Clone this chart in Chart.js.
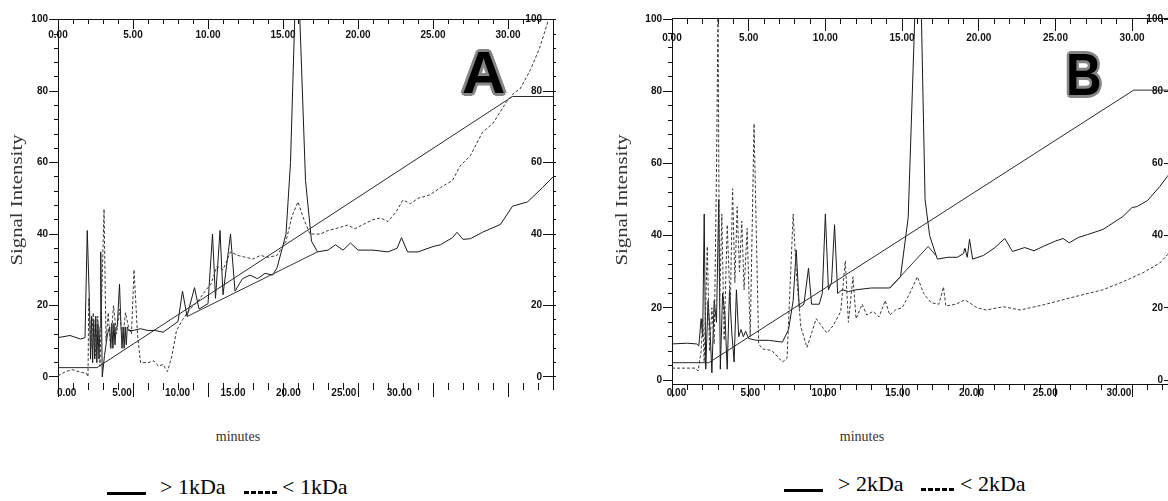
<!DOCTYPE html>
<html>
<head>
<meta charset="utf-8">
<title>Signal intensity vs minutes</title>
<script src="https://cdn.jsdelivr.net/npm/chart.js@4.4.1/dist/chart.umd.min.js"></script>
<style>
  body { margin: 0; width: 1168px; height: 501px; background: #fff; position: relative; overflow: hidden; }
  canvas { position: absolute; top: 0; }
  .txt { position: absolute; font-family: "Liberation Serif", "Times New Roman", serif; color: #333; white-space: nowrap; text-align: center; }
  .ytitle { width: 160px; font-size: 16px; line-height: 18px; transform: rotate(-90deg) scaleX(1.3); }
  .xtitle { width: 100px; font-size: 14px; line-height: 16px; }
  .tag { position: absolute; font-family: "Liberation Sans", Arial, sans-serif; font-weight: bold; font-size: 60px; line-height: 60px; color: #000;
         text-shadow: -2px -2px 0 #858585, 2px -2px 0 #858585, -2px 2px 0 #858585, 2px 2px 0 #858585, 0 -3px 0 #858585, 0 3px 0 #858585, -3px 0 0 #858585, 3px 0 0 #858585; }
  .leg { position: absolute; font-family: "Liberation Serif", "Times New Roman", serif; font-size: 22px; line-height: 22px; color: #000; white-space: nowrap; }
  .solid { position: absolute; height: 3px; background: #000; }
  .dash { position: absolute; height: 3px; background: repeating-linear-gradient(to right, #000 0 5px, transparent 5px 7px); }
</style>
</head>
<body>
<canvas id="chartA" width="600" height="420" style="left:0"></canvas>
<canvas id="chartB" width="580" height="420" style="left:600px"></canvas>

<div class="txt ytitle" style="left:-63px;top:191px">Signal Intensity</div>
<div class="txt ytitle" style="left:542px;top:191px">Signal Intensity</div>
<div class="txt xtitle" style="left:188px;top:429px">minutes</div>
<div class="txt xtitle" style="left:812px;top:429px">minutes</div>

<div class="tag" style="left:462px;top:43px">A</div>
<div class="tag" style="left:1066px;top:45px;transform:scaleX(0.82);transform-origin:left top">B</div>

<div class="solid" style="left:107px;top:492px;width:39px"></div>
<div class="leg" style="left:160px;top:476px">&gt; 1kDa</div>
<div class="dash" style="left:244px;top:491px;width:33px"></div>
<div class="leg" style="left:282px;top:476px">&lt; 1kDa</div>

<div class="solid" style="left:784px;top:489px;width:39px"></div>
<div class="leg" style="left:838px;top:473px">&gt; 2kDa</div>
<div class="dash" style="left:921px;top:488px;width:33px"></div>
<div class="leg" style="left:960px;top:473px">&lt; 2kDa</div>

<script>
// tick values shared by both panels
var timeTicks = [0, 5, 10, 15, 20, 25, 30];
var signalTicks = [0, 20, 40, 60, 80, 100];

// Panel A : > 1kDa (solid) and < 1kDa (dashed), minutes vs signal
var aSolidT = [0, 0.8, 1.5, 1.8, 1.95, 2.1, 2.17, 2.24, 2.31, 2.38, 2.45, 2.52, 2.59, 2.66, 2.73, 2.8, 2.85, 2.95, 3.1, 3.3,
  3.45, 3.52, 3.59, 3.66, 3.73, 3.8, 3.87, 3.95, 4.1, 4.2, 4.27, 4.34, 4.41, 4.48, 4.55, 4.62, 4.7, 4.8,
  5.0, 5.5, 6.0, 6.5, 7.0, 7.5, 8.0, 8.3, 8.6, 9.1, 9.4, 10.0, 10.3, 10.5, 10.8, 11.0, 11.5, 11.8, 12.3, 12.8, 13.3, 13.8,
  14.3, 14.6, 15.2, 15.5, 15.8, 16.1, 16.5, 16.9, 17.3, 18, 18.5, 19, 19.5, 20, 21, 22, 22.6, 22.9, 23.3, 24, 25, 25.5,
  26.3, 26.6, 27, 27.5, 28.3, 29.5, 30.3, 31.3, 32.3, 33];
var aSolidV = [11, 11.6, 10.6, 11, 41, 20, 5, 17, 4, 16, 5, 17, 4, 15, 5, 14, 35, 0, 6, 12,
  14, 8, 15, 8, 15, 9, 14, 14, 26, 14, 8, 14, 8, 14, 9, 14, 13, 13,
  13, 13.5, 13, 13, 12.5, 14, 15.5, 24, 17, 25, 19, 20.5, 40, 22, 41, 23, 40, 24, 27.5, 28.5, 27.5, 29,
  28.5, 30.5, 40, 60, 103, 103, 55, 38, 35, 35.5, 37, 35.5, 37.5, 35.5, 35.5, 35, 36, 39, 35, 35, 36.5, 37,
  39, 40.5, 38.5, 38.7, 40.5, 42.7, 47.8, 49, 53, 56];
var aDashT = [0, 0.5, 1.0, 1.5, 1.9, 2.0, 2.05, 2.2, 2.35, 2.5, 2.65, 2.8, 2.9, 3.07, 3.2, 3.35, 3.5, 3.7, 3.9, 4.1, 4.3,
  4.5, 4.7, 4.9, 5.07, 5.3, 5.5, 6.0, 6.4, 6.7, 7.0, 7.3, 7.6, 7.9, 8.3, 8.8, 9.3, 9.8, 10.2, 10.6, 11.0, 11.5, 12.0,
  12.5, 13.0, 13.5, 14.0, 14.6, 15.2, 15.6, 16.0, 16.4, 16.8, 17.5, 18, 18.5, 19.3, 19.8, 20.5, 21.0, 21.5, 22.0,
  22.5, 23.0, 23.5, 24.0, 24.8, 25.5, 26.3, 26.8, 27.5, 28.3, 29.0, 29.9, 30.4, 30.8, 31.5, 32.1, 32.7, 33];
var aDashV = [0.3, 1.5, 2, 1.3, 1, 0, 22, 8, 18, 6, 17, 3, 20, 47, 10, 18, 8, 20, 12, 19, 10,
  18, 14, 12, 30, 12, 4, 4, 4.5, 3, 3.5, 1.5, 6, 13, 16, 19, 21, 24, 26, 31, 30, 35, 34,
  33.5, 33, 34, 33.5, 34, 38, 45, 49, 44, 40, 40, 41, 41.5, 42.5, 41.5, 43, 44, 44.5, 43.5,
  46, 49.5, 48.5, 50, 51, 53, 55, 59, 62, 68.5, 71, 77, 79.5, 80.6, 86, 92, 100, 102];
var aGradT = [0, 2.6, 30.3, 33];
var aGradV = [2.6, 2.6, 78.5, 78.5];
var aBaseT = [8.6, 17.3];
var aBaseV = [16.9, 35];

// Panel B : > 2kDa (solid) and < 2kDa (dashed)
var bSolidT = [0, 1.0, 1.6, 1.75, 1.9, 2.0, 2.1, 2.2, 2.35, 2.5, 2.6, 2.75, 2.9, 3.05, 3.15, 3.3, 3.45, 3.6, 3.75, 3.9,
  4.05, 4.2, 4.35, 4.5, 4.65, 4.8, 5.0, 5.5, 6.3, 7.2, 7.6, 7.9, 8.1, 8.3, 8.6, 8.9, 9.1, 9.6, 9.8, 10.0, 10.2, 10.4,
  10.6, 10.8, 11.1, 11.5, 12, 13, 14.2, 14.9, 15.4, 15.85, 16.25, 16.5, 16.8, 17.3, 18, 18.6, 19.0, 19.1, 19.25, 19.4,
  19.6, 20.3, 21.0, 21.7, 22.2, 23, 23.6, 24.2, 25.0, 25.5, 25.9, 26.5, 27.1, 28.1, 29.4, 30.0, 30.3, 31, 31.8, 32.3, 32.6];
var bSolidV = [10, 10.2, 10, 9.5, 17, 12, 46, 3, 22, 12, 2, 22, 16, 50, 3, 24, 18, 3, 25, 13,
  5, 25, 12, 14, 12, 13.5, 11.5, 11, 11, 10.5, 14, 22, 36, 20, 21, 31, 21, 21, 24, 46, 25, 27,
  43, 24, 25, 24.5, 25, 25.5, 25.5, 28.6, 45, 103, 103, 50, 40, 33.5, 34, 34, 35, 36.5, 34, 39,
  33.5, 34.5, 36.5, 39.2, 35.6, 36.7, 35.8, 37, 38.5, 39.2, 38, 39.5, 40.3, 41.7, 45.3, 47.8, 48, 49.7, 53.6, 56.4, 58];
var bDashT = [0, 1.5, 1.7, 1.9, 2.0, 2.1, 2.3, 2.45, 2.6, 2.75, 2.9, 3.0, 3.1, 3.25, 3.4, 3.6, 3.8, 3.95, 4.1, 4.25, 4.4,
  4.55, 4.7, 4.9, 5.1, 5.35, 5.5, 5.65, 5.9, 6.5, 7.2, 7.5, 7.9, 8.1, 8.4, 8.8, 9.4, 10.1, 10.5, 11.0, 11.3, 11.5, 11.8,
  12.0, 12.4, 12.7, 13.1, 13.5, 13.9, 14.2, 14.6, 15.0, 15.5, 16.0, 16.4, 16.9, 17.4, 17.7, 17.85, 18.5, 19.1, 19.9,
  20.5, 21.6, 22.7, 24.2, 26, 28.1, 29.4, 30.7, 31.8, 32.3, 32.6];
var bDashV = [3.3, 3.3, 2.5, 8, 17, 5, 37, 8, 20, 10, 57, 103, 20, 46, 11, 43, 20, 53, 27, 48, 30,
  44, 25, 42, 12, 71, 40, 10, 8.6, 8.2, 5, 6, 46, 30, 14.7, 9, 17, 13, 15, 19, 33, 16, 28.6,
  17, 21, 18, 19, 17.5, 22, 18, 19.5, 20, 24, 28.6, 24, 21.4, 21, 25.8, 20.5, 21, 22.2, 20,
  19.4, 20.3, 19.4, 20.8, 22.8, 25, 27.2, 29.7, 32.4, 34.7, 36];
var bGradT = [0, 2.4, 30.1, 32.6];
var bGradV = [4.8, 4.8, 80.3, 80.3];
var bBaseT = [14.2, 16.7, 17.2];
var bBaseV = [25.5, 37, 34.5];

var INK = '#111';
var TICK_FONT = { family: '"Liberation Sans Narrow", "Liberation Sans", Arial, sans-serif', size: 10, weight: 'bold' };

function pts(t, v) {
  return t.map(function (x, i) { return { x: x, y: v[i] }; });
}

function trace(t, v, color, dash) {
  return { data: pts(t, v), borderColor: color, borderWidth: 1, borderDash: dash || [],
    pointRadius: 0, tension: 0, fill: false };
}

// axes get a fixed size (mostly 0) so the chart area comes from the layout padding
function axis(pos, min, max, tl, o) {
  var size = o.size || 0;
  return {
    type: 'linear', position: pos, min: min, max: max,
    afterFit: function (s) { if (s.isHorizontal()) s.height = size; else s.width = size; },
    afterBuildTicks: o.list ? function (s) { s.ticks = o.list.map(function (v) { return { value: v }; }); } : undefined,
    ticks: { stepSize: o.step, includeBounds: false, autoSkip: false, display: !!o.fmt, callback: o.fmt,
      font: TICK_FONT, color: INK, padding: o.pad || 0, mirror: !!o.mirror, maxRotation: 0 },
    grid: { display: tl !== null, drawOnChartArea: false, drawTicks: tl !== null, tickLength: tl || 0,
      tickColor: INK, tickWidth: 1, color: INK },
    border: { display: !!o.line, color: INK, width: 1 }
  };
}

function fmtTime(v) { return v.toFixed(2); }
function fmtSig(v) { return String(v); }

function makePanel(id, sets, f) {
  new Chart(document.getElementById(id), {
    type: 'line',
    data: { datasets: sets },
    options: {
      responsive: false, animation: false, events: [],
      layout: { padding: f.pad },
      plugins: { legend: { display: false }, tooltip: { enabled: false } },
      scales: {
        x: axis('bottom', 0, f.xMax, f.bMinor, { step: 1, line: f.bottomLine }),
        xb: axis('bottom', 0, f.xMax, f.bMajor, { list: timeTicks }),
        xl: axis('bottom', f.labMin, f.labMax, null, { list: timeTicks, fmt: fmtTime, pad: f.labPad, size: 20 }),
        xt: axis('top', 0, f.xMax, f.tMinor, { step: 1 }),
        xT: axis('top', 0, f.xMax, f.tMajor, { list: timeTicks, fmt: fmtTime, pad: f.topPad, line: true, mirror: true }),
        y: axis('left', f.yMin, f.yMax, 4, { step: 4 }),
        yL: axis('left', f.yMin, f.yMax, f.lMajor, { list: signalTicks, fmt: fmtSig, pad: 1, line: true, size: f.leftSize }),
        yr: axis('right', f.yMin, f.yMax, 3, { step: 4, line: true }),
        yR: axis('right', f.yMin, f.yMax, f.rMajor, { list: signalTicks, fmt: fmtSig, pad: f.rPad, mirror: true })
      }
    }
  });
}

makePanel('chartA', [
  trace(aGradT, aGradV, '#2a2a2a'),
  trace(aBaseT, aBaseV, '#333'),
  trace(aDashT, aDashV, '#3a3a3a', [3, 2]),
  trace(aSolidT, aSolidV, '#1a1a1a')
], {
  pad: { left: 0, right: 47, top: 19, bottom: 17 }, leftSize: 58,
  xMax: 33, yMin: -1.7, yMax: 100.2,
  labMin: -0.78, labMax: 43.86, labPad: 4,
  bMinor: 7, bMajor: 14, bottomLine: false,
  tMinor: -5, tMajor: -10, topPad: 10,
  lMajor: 9, rMajor: -10, rPad: -11
});

makePanel('chartB', [
  trace(bGradT, bGradV, '#2a2a2a'),
  trace(bBaseT, bBaseV, '#333'),
  trace(bDashT, bDashV, '#3a3a3a', [3, 2]),
  trace(bSolidT, bSolidV, '#1a1a1a')
], {
  pad: { left: 0, right: 8, top: 18, bottom: 16 }, leftSize: 72,
  xMax: 32.6, yMin: -1.1, yMax: 100.28,
  labMin: -0.305, labMax: 33.6, labPad: 3,
  bMinor: 6, bMajor: 13, bottomLine: true,
  tMinor: -6, tMajor: -13, topPad: 14,
  lMajor: 9, rMajor: -8, rPad: -9
});
</script>
</body>
</html>
